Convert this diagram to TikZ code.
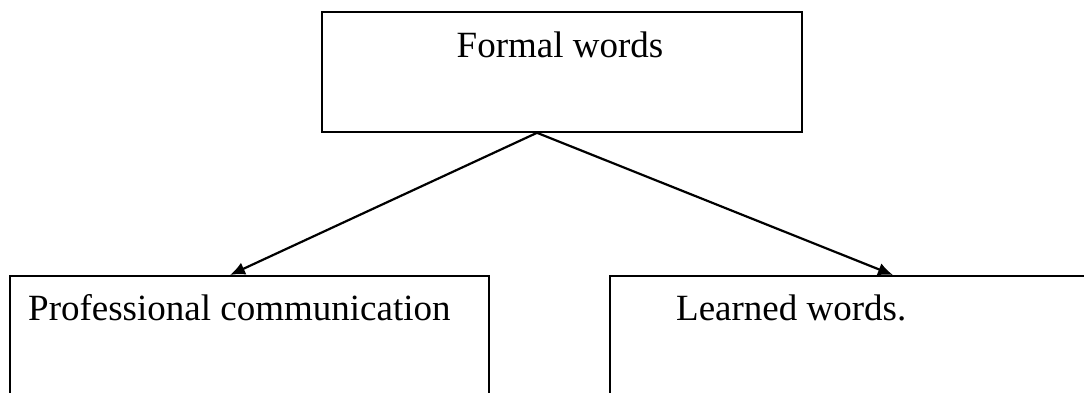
\documentclass[tikz,border=0pt]{standalone}
\usepackage{fontspec}
\setmainfont{Liberation Serif}
\usetikzlibrary{arrows.meta,calc}
\begin{document}
\begin{tikzpicture}[x=1pt,y=-1pt,
  box/.style={draw=black, line width=1.8pt, rectangle, inner sep=0pt, anchor=north west},
  lbl/.style={inner sep=0pt, font=\fontsize{37}{44}\selectfont},
  link/.style={line width=2.2pt, -{Latex[length=15pt,width=13pt]}}]
\useasboundingbox (0,0) rectangle (1084,392);
\clip (0,0) rectangle (1084,392);
% boxes
\node[box, minimum width=480pt, minimum height=120pt] (fw) at (321,11) {};
\node[box, minimum width=479pt, minimum height=140pt] (pc) at (9,275) {};
\node[box, minimum width=490pt, minimum height=140pt] (lw) at (609,275) {};
% labels
\node[lbl, anchor=base] (fwt) at (560,57) {Formal words};
\node[lbl, anchor=base west] (pct) at (28,320) {Professional communication};
\node[lbl, anchor=base west] (lwt) at (676,320) {Learned words.};
% connectors
\coordinate (apex) at ($(fw.south west)+(216,0)$);
\coordinate (pcin) at ($(pc.north west)+(221,0)$);
\coordinate (lwin) at ($(lw.north west)+(284,0)$);
\draw[link] (apex) -- (pcin);
\draw[link] (apex) -- (lwin);
\end{tikzpicture}
\end{document}
